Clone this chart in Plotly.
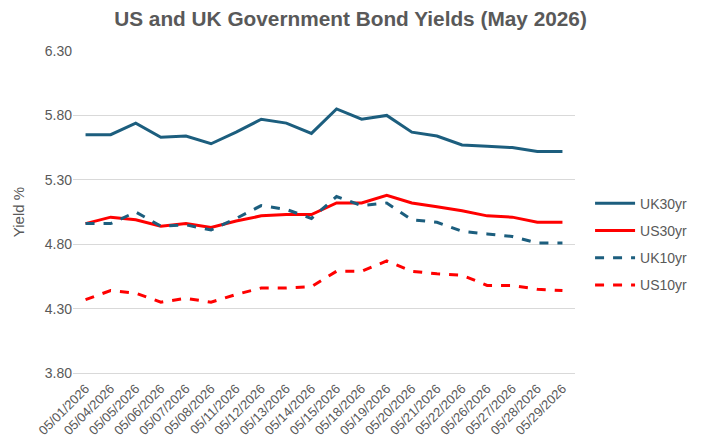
import plotly.graph_objects as go

dates = ["05/01/2026", "05/04/2026", "05/05/2026", "05/06/2026", "05/07/2026",
         "05/08/2026", "05/11/2026", "05/12/2026", "05/13/2026", "05/14/2026",
         "05/15/2026", "05/18/2026", "05/19/2026", "05/20/2026", "05/21/2026",
         "05/22/2026", "05/26/2026", "05/27/2026", "05/28/2026", "05/29/2026"]

uk30 = [5.65, 5.65, 5.74, 5.63, 5.64, 5.58, 5.67, 5.77, 5.74, 5.66,
        5.85, 5.77, 5.80, 5.67, 5.64, 5.57, 5.56, 5.55, 5.52, 5.52]
us30 = [4.96, 5.01, 4.99, 4.94, 4.96, 4.93, 4.98, 5.02, 5.03, 5.03,
        5.12, 5.12, 5.18, 5.12, 5.09, 5.06, 5.02, 5.01, 4.97, 4.97]
uk10 = [4.96, 4.96, 5.05, 4.94, 4.95, 4.91, 5.00, 5.10, 5.07, 5.00,
        5.17, 5.10, 5.12, 4.99, 4.97, 4.90, 4.88, 4.86, 4.81, 4.81]
us10 = [4.37, 4.44, 4.42, 4.35, 4.38, 4.35, 4.41, 4.46, 4.46, 4.47,
        4.59, 4.59, 4.67, 4.59, 4.57, 4.56, 4.48, 4.48, 4.45, 4.44]

y_ticks = [3.80, 4.30, 4.80, 5.30, 5.80, 6.30]

UK_COLOR = "#1c5e7e"
US_COLOR = "#ff0000"
GREY = "#595959"
FONT = "Liberation Sans, Arial, sans-serif"

fig = go.Figure()
series = [
    ("UK30yr", uk30, UK_COLOR, "solid"),
    ("US30yr", us30, US_COLOR, "solid"),
    ("UK10yr", uk10, UK_COLOR, "dash"),
    ("US10yr", us10, US_COLOR, "dash"),
]
for name, vals, color, dash in series:
    fig.add_trace(go.Scatter(
        x=dates, y=vals, name=name, mode="lines", legendgroup=name,
        line=dict(color=color, width=3, dash=dash),
    ))

fig.update_layout(
    width=701, height=442,
    margin=dict(l=73, r=126, t=51, b=69, autoexpand=False),
    paper_bgcolor="white", plot_bgcolor="white",
    font=dict(family=FONT, color=GREY, size=14),
    title=dict(
        text="<b>US and UK Government Bond Yields (May 2026)</b>",
        x=0.5, xanchor="center", y=0.957, yanchor="middle",
        font=dict(size=20.8, color=GREY, family=FONT),
    ),
    legend=dict(
        x=1.03, xanchor="left", y=0.40, yanchor="middle",
        font=dict(size=14, color=GREY),
        tracegroupgap=6, itemwidth=40,
    ),
    showlegend=True,
)
fig.update_xaxes(
    type="category", tickangle=-45, tickfont=dict(size=13, color=GREY),
    showgrid=False, showline=True, linecolor="#d9d9d9", linewidth=1,
    ticks="", range=[-0.5, len(dates) - 0.5], ticklabelstandoff=2,
    automargin=False,
)
fig.update_yaxes(
    range=[3.80, 6.30], tickvals=y_ticks,
    ticktext=[f"{v:.2f}" for v in y_ticks],
    showgrid=True, gridcolor="#d9d9d9", gridwidth=1,
    zeroline=False, showline=False, ticks="",
    tickfont=dict(size=14, color=GREY), automargin=False,
    title=dict(text="Yield %", font=dict(size=15, color=GREY), standoff=16),
)

fig.write_html("out.html")
